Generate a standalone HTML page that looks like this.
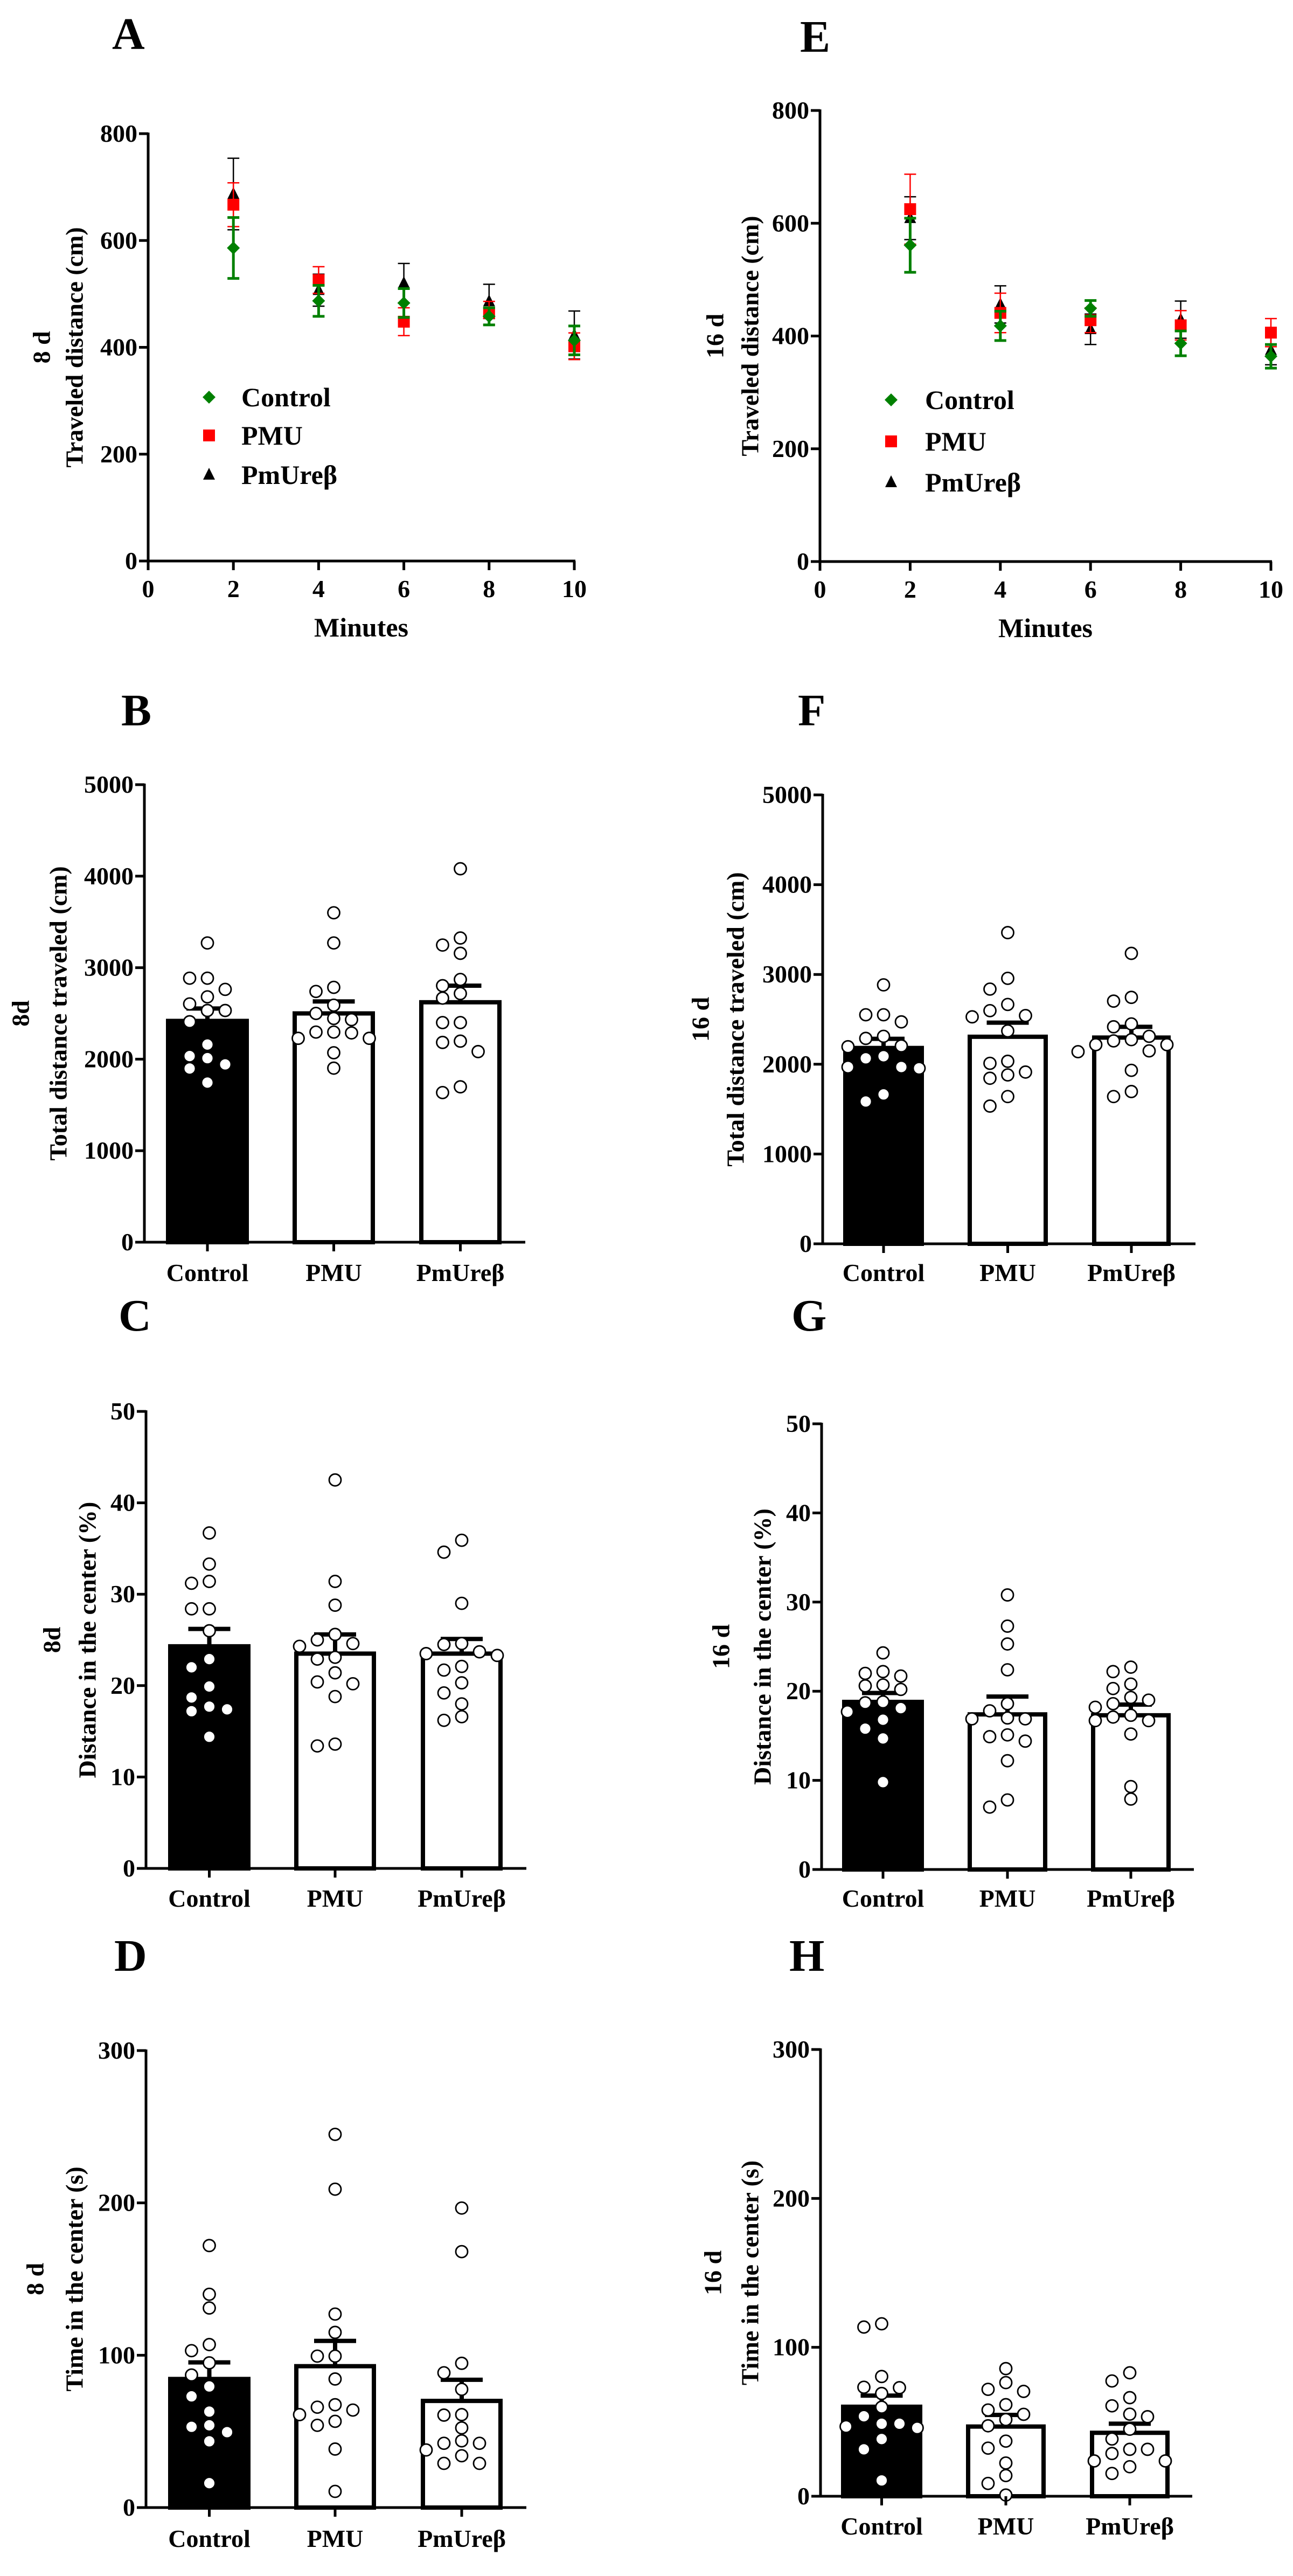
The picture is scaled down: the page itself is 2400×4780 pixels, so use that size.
<!DOCTYPE html>
<html><head><meta charset="utf-8">
<style>
html,body{margin:0;padding:0;background:#fff;}
svg{display:block;}
text{font-family:"Liberation Serif",serif;font-weight:bold;fill:#000;}
</style></head>
<body>
<svg id="fig" xmlns="http://www.w3.org/2000/svg" width="2400" height="4780" viewBox="0 0 2400 4780"></svg>
<script>
// ===== Data =====
const groups = ["Control", "PMU", "PmUreβ"];
const minutes = [2, 4, 6, 8, 10];
const xTicksLine = [0, 2, 4, 6, 8, 10];
const yTicksLine = [0, 200, 400, 600, 800];

// Panel A (8 d)
const aControl = [586, 487, 483, 458, 413];
const aControlSem = [57, 29, 27, 16, 27];
const aPMU = [667, 526, 448, 464, 402];
const aPMUSem = [41, 25, 26, 22, 25];
const aPmUre = [687, 507, 520, 486, 423];
const aPmUreSem = [67, 30, 37, 32, 45];
// Panel E (16 d)
const eControl = [561, 418, 449, 387, 364];
const eControlSem = [48, 26, 14, 22, 21];
const ePMU = [625, 441, 428, 419, 406];
const ePMUSem = [62, 35, 22, 26, 25];
const ePmUre = [609, 456, 412, 429, 375];
const ePmUreSem = [38, 33, 27, 33, 26];

// Panel B: total distance 8d
const bMeans = [2418, 2500, 2622];
const bSem = [136, 131, 181];
const bCtrlPts = [3270,2885,2885,2763,2681,2604,2532,2532,2409,2160,2011,2034,1943,1898,1744];
const bPMUPts = [3600,3270,2785,2740,2590,2500,2445,2432,2296,2296,2287,2228,2228,2070,1902];
const bPmUrePts = [4081,3324,3247,3157,2871,2803,2717,2667,2400,2400,2197,2183,2083,1698,1635];
// Panel C: % distance center 8d
const cMeans = [24.3, 23.5, 23.5];
const cSem = [1.9, 2.1, 1.6];
const cCtrlPts = [36.7,33.3,31.4,31.2,28.4,28.4,26.0,22.9,22.0,19.9,18.7,17.7,17.4,17.2,14.4];
const cPMUPts = [42.5,31.4,28.8,25.6,25.0,24.6,24.3,23.1,22.9,21.4,20.4,20.2,18.8,13.6,13.4];
const cPmUrePts = [35.9,34.6,29.0,24.6,24.5,23.7,23.5,23.3,22.1,21.7,20.3,19.2,18.0,16.6,16.2];
// Panel D: time in center 8d
const dMeans = [84.4, 92.8, 70.0];
const dSem = [10.9, 16.6, 13.9];
const dCtrlPts = [172,140,131,107,103,95,87,79.5,73,63,54,53,49.5,43.5,16];
const dPMUPts = [245,209,127,115,99.4,99.4,84.4,67.5,65.9,64,61,56.6,54,38.4,10.6];
const dPmUrePts = [196.6,168,94.7,88.5,77.6,61,60.7,52.3,43.8,42.2,42.2,37.8,34,29,29];
// Panel F: total distance 16d
const fMeans = [2181, 2306, 2297];
const fSem = [102, 157, 120];
const fCtrlPts = [2884,2551,2551,2472,2311,2288,2204,2195,2089,2066,1969,1969,1955,1664,1585];
const fPMUPts = [3466,2957,2837,2666,2597,2542,2528,2371,2033,2010,1913,1881,1844,1640,1534];
const fPmUrePts = [3235,2745,2703,2449,2417,2311,2274,2260,2218,2218,2149,2140,1932,1696,1640];
// Panel G: % distance center 16d
const gMeans = [18.8, 17.4, 17.3];
const gSem = [1.0, 2.0, 1.2];
const gCtrlPts = [24.3,22.2,22.0,21.7,20.7,20.6,20.2,18.8,18.7,18.1,17.7,16.8,15.8,14.7,9.8];
const gPMUPts = [30.8,27.3,25.3,22.4,18.6,17.8,17.0,16.9,16.9,15.1,14.9,14.4,12.2,7.8,7.0];
const gPmUrePts = [22.7,22.2,20.8,20.3,19.3,19.0,18.6,18.2,17.3,17.1,16.7,16.7,15.2,9.3,7.9];
// Panel H: time in center 16d
const hMeans = [60.1, 46.8, 42.6];
const hSem = [7.5, 7.8, 6.1];
const hCtrlPts = [115.8,113.6,80.4,73.2,72.9,69,59.8,53.7,48.7,48.7,46.8,45.9,38.4,31.5,10.6];
const hPMUPts = [85.7,76.3,71.8,70.4,61.5,57.9,55,51.5,47.3,37,32.3,22.3,13.9,8.6,0.8];
const hPmUrePts = [82.9,77.4,66.2,60.7,55.1,53.4,45,38.4,31.5,31.5,28.7,23.7,23.7,19.8,15.3];

const ticksDist = [0,1000,2000,3000,4000,5000];
const ticksPct = [0,10,20,30,40,50];
const ticksTime = [0,100,200,300];

// ===== Drawing =====
const NS = "http://www.w3.org/2000/svg";
const svg = document.getElementById("fig");
function mk(tag, attrs, parent, txt){
  const e = document.createElementNS(NS, tag);
  for (const k in attrs) e.setAttribute(k, attrs[k]);
  if (txt !== undefined) e.textContent = txt;
  (parent || svg).appendChild(e);
  return e;
}
function grp(name, parent){
  const g = mk("g", {}, parent);
  
  
  return g;
}

function panelLetter(letter, x, y){
  const t = mk("text", {x:x, y:y, "font-size":84}, svg, letter);
  
  
}

function yTitles(g, title, day, xTitle, xDay, cy){
  const t1 = mk("text", {x:xTitle, y:cy, "font-size":46, "text-anchor":"middle", "dominant-baseline":"central", transform:`rotate(-90 ${xTitle} ${cy})`}, g, title);
  
  
  const t2 = mk("text", {x:xDay, y:cy, "font-size":46, "text-anchor":"middle", "dominant-baseline":"central", transform:`rotate(-90 ${xDay} ${cy})`}, g, day);
  
  
}

function yAxis(g, ax, y0, yTop, ticks, vmax, fs){
  const sy = v => y0 - (v / vmax) * (y0 - yTop);
  const l = mk("line", {x1:ax, y1:yTop-2, x2:ax, y2:y0+2, stroke:"#000", "stroke-width":5}, g);
  
  
  ticks.forEach(v => {
    const y = sy(v);
    const tk = mk("line", {x1:ax-17, y1:y, x2:ax, y2:y, stroke:"#000", "stroke-width":5}, g);
    
    
    const tl = mk("text", {x:ax-20, y:y+15, "font-size":fs, "text-anchor":"end"}, g, String(v));
    
    
  });
  return sy;
}

function barPanel(cfg){
  const g = grp(cfg.name);
  const sy = yAxis(g, cfg.ax, cfg.y0, cfg.yTop, cfg.ticks, cfg.vmax, 46);
  const xl = mk("line", {x1:cfg.ax-2, y1:cfg.y0, x2:cfg.xEnd, y2:cfg.y0, stroke:"#000", "stroke-width":5}, g);
  
  
  yTitles(g, cfg.title, cfg.day, cfg.xTitle, cfg.xDay, (cfg.y0 + cfg.yTop) / 2);
  cfg.bars.forEach((b, i) => {
    const cx = (b[0] + b[1]) / 2;
    const top = sy(cfg.means[i]);
    const errTop = sy(cfg.means[i] + cfg.sem[i]);
    const sw = 8;
    const bg = grp('bar-group-' + groups[i].toLowerCase().replace('β','b'), g);
    const rect = mk("rect", {x:b[0]+sw/2, y:top, width:b[1]-b[0]-sw, height:cfg.y0-top, fill:i===0?"#000":"#fff", stroke:"#000", "stroke-width":sw}, bg);
    
    
    const ev = mk("line", {x1:cx, y1:top, x2:cx, y2:errTop, stroke:"#000", "stroke-width":8}, bg);
    
    
    const ec = mk("line", {x1:cx-39, y1:errTop, x2:cx+39, y2:errTop, stroke:"#000", "stroke-width":8}, bg);
    
    
    const pts = cfg.points[i].slice().sort((a,b)=>b-a);
    const placed = [];
    const step = 33, r = 11;
    const order = [0,-1,1,-2,2,-3,3];
    pts.forEach(v => {
      const y = sy(v);
      let off = 0;
      for (const s of order){
        const x = cx + s*step;
        if (placed.every(p => Math.hypot(p[0]-x, p[1]-y) >= 2*r+1)){ off = s; break; }
      }
      const x = cx + off*step;
      placed.push([x, y]);
      const c = mk("circle", {cx:x, cy:y, r:r, fill:"#fff", stroke:"#000", "stroke-width":2.8}, bg);
      
      
    });
    const tk = mk("line", {x1:cx, y1:cfg.y0, x2:cx, y2:cfg.y0+17, stroke:"#000", "stroke-width":5}, g);
    
    
    const lab = mk("text", {x:cx, y:cfg.labelY, "font-size":46, "text-anchor":"middle"}, g, groups[i]);
    
    
  });
}

function marker(g, type, x, y, color){
  let m;
  if (type === "diamond") m = mk("polygon", {points:`${x},${y-12} ${x+12},${y} ${x},${y+12} ${x-12},${y}`, fill:color}, g);
  else if (type === "square") m = mk("rect", {x:x-11, y:y-11, width:22, height:22, fill:color}, g);
  else m = mk("polygon", {points:`${x},${y-13} ${x+11},${y+9} ${x-11},${y+9}`, fill:color}, g);
  
  
}

function linePanel(cfg){
  const g = grp(cfg.name);
  const sy = yAxis(g, cfg.ax, cfg.y0, cfg.yTop, yTicksLine, 800, 46);
  const sx = v => cfg.ax + (v / 10) * (cfg.x10 - cfg.ax);
  const xl = mk("line", {x1:cfg.ax-2, y1:cfg.y0, x2:cfg.x10+2, y2:cfg.y0, stroke:"#000", "stroke-width":5}, g);
  
  
  xTicksLine.forEach(v => {
    const x = sx(v);
    const tk = mk("line", {x1:x, y1:cfg.y0, x2:x, y2:cfg.y0+17, stroke:"#000", "stroke-width":5}, g);
    
    
    const tl = mk("text", {x:x, y:cfg.y0+67, "font-size":46, "text-anchor":"middle"}, g, String(v));
    
    
  });
  const xt = mk("text", {x:(cfg.ax+cfg.x10)/2, y:cfg.y0+140, "font-size":50, "text-anchor":"middle"}, g, "Minutes");
  
  
  yTitles(g, "Traveled distance (cm)", cfg.day, cfg.xTitle, cfg.xDay, (cfg.y0 + cfg.yTop) / 2);
  const series = [
    {vals:cfg.pmure, sem:cfg.pmureSem, color:"#000", type:"triangle", w:2.5, name:"pmureb"},
    {vals:cfg.pmu, sem:cfg.pmuSem, color:"#ff0000", type:"square", w:2.5, name:"pmu"},
    {vals:cfg.ctrl, sem:cfg.ctrlSem, color:"#008000", type:"diamond", w:5, name:"control"}
  ];
  series.forEach(s => {
    const sg = grp('series-' + s.name, g);
    minutes.forEach((m, j) => {
      const x = sx(m), y = sy(s.vals[j]);
      const yt = sy(s.vals[j] + s.sem[j]), yb = sy(s.vals[j] - s.sem[j]);
      const e = mk("line", {x1:x, y1:yt, x2:x, y2:yb, stroke:s.color, "stroke-width":s.w}, sg);
      
      
      [yt, yb].forEach(yy => {
        const c = mk("line", {x1:x-11, y1:yy, x2:x+11, y2:yy, stroke:s.color, "stroke-width":s.w}, sg);
        
        
      });
      marker(sg, s.type, x, y, s.color);
    });
  });
  const lg = grp('legend', g);
  const items = [["Control","diamond","#008000"],["PMU","square","#ff0000"],["PmUreβ","triangle","#000"]];
  items.forEach((it, k) => {
    const y = cfg.legY[k];
    const eg = grp('legend-entry', lg);
    marker(eg, it[1], cfg.legMX, y, it[2]);
    const t = mk("text", {x:cfg.legTX, y:y+17, "font-size":50}, eg, it[0]);
    
    
  });
}

panelLetter("A", 208, 91);
linePanel({name:"panel-a-chart", ax:275, y0:1041, yTop:248, x10:1066, day:"8 d", xTitle:138, xDay:77,
  ctrl:aControl, ctrlSem:aControlSem, pmu:aPMU, pmuSem:aPMUSem, pmure:aPmUre, pmureSem:aPmUreSem,
  legMX:388, legTX:448, legY:[737,808,881]});
panelLetter("E", 1485, 96);
linePanel({name:"panel-e-chart", ax:1522, y0:1042, yTop:205, x10:2359, day:"16 d", xTitle:1392, xDay:1327,
  ctrl:eControl, ctrlSem:eControlSem, pmu:ePMU, pmuSem:ePMUSem, pmure:ePmUre, pmureSem:ePmUreSem,
  legMX:1654, legTX:1717, legY:[742,819,895]});

panelLetter("B", 225, 1346);
barPanel({name:"panel-b-chart", ax:268, y0:2305, yTop:1456, vmax:5000, ticks:ticksDist, xEnd:975,
  bars:[[308,462],[543,696],[778,931]], labelY:2377, title:"Total distance traveled (cm)", day:"8d", xTitle:108, xDay:38,
  means:bMeans, sem:bSem, points:[bCtrlPts,bPMUPts,bPmUrePts]});
panelLetter("F", 1481, 1346);
barPanel({name:"panel-f-chart", ax:1527, y0:2308, yTop:1475, vmax:5000, ticks:ticksDist, xEnd:2219,
  bars:[[1565,1715],[1796,1945],[2027,2173]], labelY:2377, title:"Total distance traveled (cm)", day:"16 d", xTitle:1365, xDay:1300,
  means:fMeans, sem:fSem, points:[fCtrlPts,fPMUPts,fPmUrePts]});

panelLetter("C", 220, 2469);
barPanel({name:"panel-c-chart", ax:271, y0:3467, yTop:2619, vmax:50, ticks:ticksPct, xEnd:977,
  bars:[[312,465],[546,698],[781,933]], labelY:3538, title:"Distance in the center (%)", day:"8d", xTitle:162, xDay:96,
  means:cMeans, sem:cSem, points:[cCtrlPts,cPMUPts,cPmUrePts]});
panelLetter("G", 1469, 2469);
barPanel({name:"panel-g-chart", ax:1525, y0:3469, yTop:2642, vmax:50, ticks:ticksPct, xEnd:2216,
  bars:[[1563,1715],[1796,1944],[2025,2173]], labelY:3538, title:"Distance in the center (%)", day:"16 d", xTitle:1415, xDay:1338,
  means:gMeans, sem:gSem, points:[gCtrlPts,gPMUPts,gPmUrePts]});

panelLetter("D", 212, 3657);
barPanel({name:"panel-d-chart", ax:271, y0:4653, yTop:3805, vmax:300, ticks:ticksTime, xEnd:977,
  bars:[[312,465],[546,698],[781,933]], labelY:4726, title:"Time in the center (s)", day:"8 d", xTitle:138, xDay:65,
  means:dMeans, sem:dSem, points:[dCtrlPts,dPMUPts,dPmUrePts]});
panelLetter("H", 1465, 3657);
barPanel({name:"panel-h-chart", ax:1523, y0:4632, yTop:3803, vmax:300, ticks:ticksTime, xEnd:2213,
  bars:[[1561,1712],[1793,1941],[2023,2171]], labelY:4703, title:"Time in the center (s)", day:"16 d", xTitle:1392, xDay:1323,
  means:hMeans, sem:hSem, points:[hCtrlPts,hPMUPts,hPmUrePts]});
</script>
</body></html>
